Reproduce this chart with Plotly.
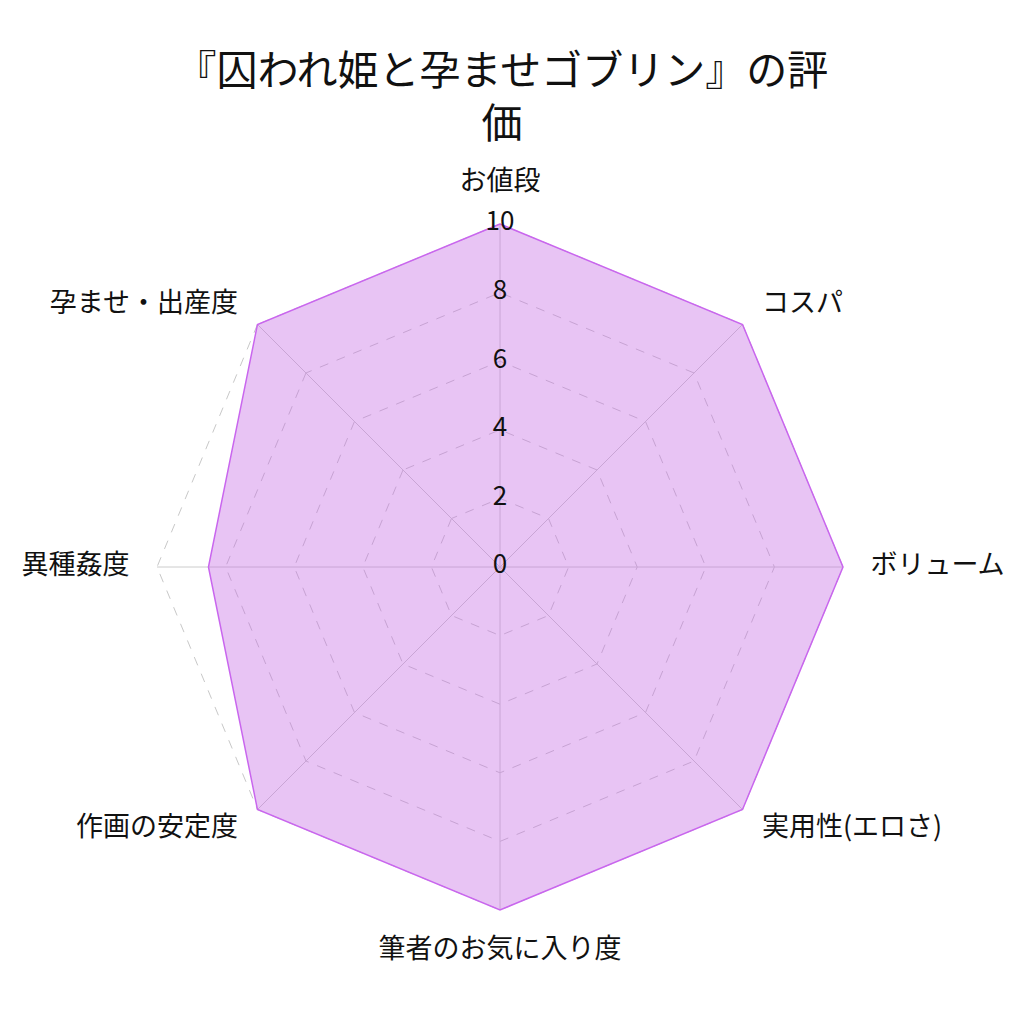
import plotly.graph_objects as go

categories = ["お値段", "コスパ", "ボリューム", "実用性(エロさ)", "筆者のお気に入り度",
              "作画の安定度", "異種姦度", "孕ませ・出産度"]
values = [10, 10, 10, 10, 10, 10, 8.5, 10]
tick_values = [0, 2, 4, 6, 8, 10]
title_text = "『囚われ姫と孕ませゴブリン』の評<br>価"

FONT = "Noto Sans CJK JP"
R_MAX = 11.3
R_MIN = 0
label_r = 10.8
label_positions = ["top center", "middle right", "middle right", "middle right",
                   "bottom center", "middle left", "middle left", "middle left"]

# px geometry: r=10 -> 343 px, center (500, 567); plotly offsets center by +8px
rad_px = 343 * R_MAX / 10
cx, cy = 492, 559

fig = go.Figure()
for cat in categories:
    fig.add_trace(go.Scatterpolar(
        r=[0, tick_values[-1]], theta=[cat, cat], mode="lines",
        line=dict(color="#cccccc", width=1),
        hoverinfo="skip", showlegend=False,
    ))
fig.add_trace(go.Scatterpolar(
    r=values + [values[0]],
    theta=categories + [categories[0]],
    mode="lines",
    fill="toself",
    fillcolor="rgba(197,107,227,0.4)",
    line=dict(color="#c966ee", width=1.5),
    hoverinfo="skip",
    showlegend=False,
))
# radial tick labels drawn along the top spoke
fig.add_trace(go.Scatterpolar(
    r=[max(v, 1e-6) for v in tick_values],
    theta=[categories[0]] * len(tick_values),
    mode="text",
    text=[str(v) for v in tick_values],
    textfont=dict(family=FONT, size=26, color="#111"),
    textposition="middle center",
    cliponaxis=False,
    hoverinfo="skip",
    showlegend=False,
))
fig.add_trace(go.Scatterpolar(
    r=[label_r] * len(categories),
    theta=categories,
    mode="text",
    text=categories,
    textfont=dict(family=FONT, size=27, color="#111"),
    textposition=label_positions,
    cliponaxis=False,
    hoverinfo="skip",
    showlegend=False,
))

fig.update_layout(
    width=1024, height=1024,
    paper_bgcolor="white",
    margin=dict(l=0, r=0, t=0, b=0),
    font=dict(family=FONT, size=26, color="#111"),
    title=dict(text=title_text, x=0.4824, xanchor="center", y=0.925, yanchor="top",
               font=dict(family=FONT, size=41, color="#111")),
    polar=dict(
        domain=dict(x=[(cx - rad_px) / 1024, (cx + rad_px) / 1024],
                    y=[1 - (cy + rad_px) / 1024, 1 - (cy - rad_px) / 1024]),
        bgcolor="white",
        gridshape="linear",
        radialaxis=dict(range=[R_MIN, R_MAX], tickvals=tick_values[1:], showticklabels=False,
                        showline=False, ticks="", gridcolor="#c8c8c8", griddash="dash",
                        gridwidth=1, angle=90),
        angularaxis=dict(direction="clockwise", rotation=90, showline=False,
                         showticklabels=False, showgrid=False, ticks=""),
    ),
)

fig.write_html("out.html")
